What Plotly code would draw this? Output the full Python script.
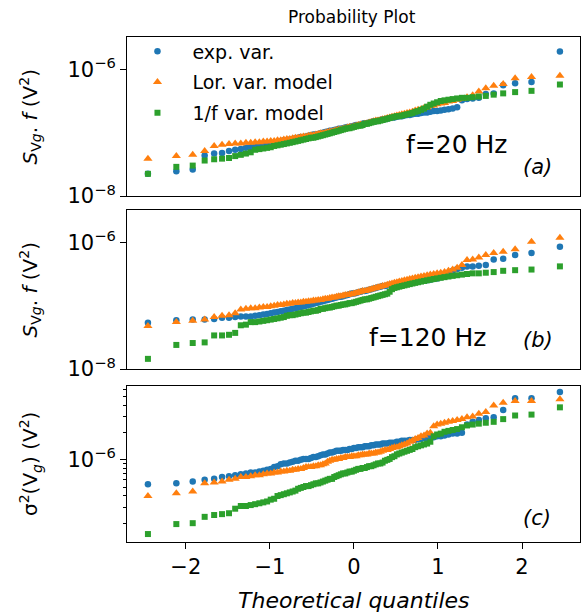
import plotly.graph_objects as go

# Theoretical quantiles (x axis of the probability plot), 97 ordered samples
quantiles = [-2.451, -2.113, -1.918, -1.776, -1.663, -1.569, -1.486, -1.413, -1.346, -1.285,
             -1.228, -1.175, -1.125, -1.078, -1.033, -0.990, -0.949, -0.909, -0.871, -0.834,
             -0.798, -0.763, -0.729, -0.696, -0.664, -0.632, -0.601, -0.570, -0.540, -0.511,
             -0.482, -0.453, -0.425, -0.397, -0.369, -0.341, -0.314, -0.287, -0.260, -0.234,
             -0.207, -0.181, -0.155, -0.129, -0.103, -0.078, -0.052, -0.026, 0.000,
             0.026, 0.052, 0.078, 0.103, 0.129, 0.155, 0.181, 0.207, 0.234, 0.260,
             0.287, 0.314, 0.341, 0.369, 0.397, 0.425, 0.453, 0.482, 0.511, 0.540,
             0.570, 0.601, 0.632, 0.664, 0.696, 0.729, 0.763, 0.798, 0.834, 0.871,
             0.909, 0.949, 0.990, 1.033, 1.078, 1.125, 1.175, 1.228, 1.285, 1.346,
             1.413, 1.486, 1.569, 1.663, 1.776, 1.918, 2.113, 2.451]

# Ordered values, stored as log10 of the quantity (V^2)
# Panel (a): f = 20 Hz
exp_20_log10 = [-7.65, -7.61, -7.58, -7.36, -7.33, -7.32, -7.29, -7.27, -7.26, -7.24,
                -7.23, -7.22, -7.20, -7.19, -7.18, -7.17, -7.16, -7.15, -7.14, -7.12,
                -7.12, -7.11, -7.10, -7.09, -7.08, -7.07, -7.07, -7.06, -7.05, -7.04,
                -7.03, -7.03, -7.02, -7.01, -7.00, -6.99, -6.98, -6.97, -6.97, -6.96,
                -6.95, -6.94, -6.94, -6.93, -6.92, -6.91, -6.91, -6.90, -6.89, -6.88,
                -6.88, -6.87, -6.86, -6.85, -6.85, -6.84, -6.83, -6.82, -6.82, -6.81,
                -6.80, -6.79, -6.79, -6.78, -6.77, -6.76, -6.76, -6.75, -6.74, -6.74,
                -6.73, -6.72, -6.72, -6.71, -6.70, -6.70, -6.69, -6.68, -6.68, -6.67,
                -6.66, -6.66, -6.65, -6.64, -6.63, -6.62, -6.60, -6.49, -6.47, -6.46,
                -6.45, -6.39, -6.38, -6.25, -6.22, -6.20, -5.72]
lor_20_log10 = [-7.41, -7.37, -7.35, -7.29, -7.21, -7.19, -7.18, -7.17, -7.17, -7.16,
                -7.16, -7.15, -7.15, -7.14, -7.14, -7.13, -7.13, -7.12, -7.12, -7.11,
                -7.10, -7.10, -7.09, -7.08, -7.08, -7.07, -7.06, -7.06, -7.05, -7.04,
                -7.04, -7.03, -7.02, -7.01, -7.01, -7.00, -6.99, -6.98, -6.98, -6.97,
                -6.96, -6.95, -6.95, -6.94, -6.93, -6.92, -6.91, -6.91, -6.90, -6.89,
                -6.88, -6.87, -6.87, -6.86, -6.85, -6.84, -6.83, -6.82, -6.81, -6.81,
                -6.80, -6.79, -6.78, -6.77, -6.76, -6.75, -6.74, -6.73, -6.72, -6.71,
                -6.70, -6.69, -6.68, -6.67, -6.65, -6.64, -6.63, -6.61, -6.60, -6.58,
                -6.57, -6.55, -6.54, -6.53, -6.51, -6.50, -6.48, -6.47, -6.44, -6.41,
                -6.35, -6.30, -6.26, -6.23, -6.14, -6.12, -6.10]
inv_f_20_log10 = [-7.65, -7.54, -7.52, -7.44, -7.42, -7.41, -7.40, -7.37, -7.35, -7.33,
                  -7.31, -7.27, -7.26, -7.25, -7.24, -7.23, -7.21, -7.20, -7.19, -7.18,
                  -7.17, -7.16, -7.15, -7.14, -7.13, -7.12, -7.11, -7.10, -7.09, -7.08,
                  -7.08, -7.07, -7.06, -7.05, -7.04, -7.03, -7.02, -7.01, -7.00, -6.99,
                  -6.98, -6.97, -6.96, -6.95, -6.94, -6.93, -6.93, -6.92, -6.91, -6.90,
                  -6.89, -6.89, -6.88, -6.86, -6.86, -6.85, -6.84, -6.83, -6.82, -6.82,
                  -6.81, -6.80, -6.79, -6.78, -6.77, -6.76, -6.75, -6.74, -6.74, -6.73,
                  -6.72, -6.71, -6.70, -6.69, -6.67, -6.66, -6.64, -6.62, -6.59, -6.56,
                  -6.54, -6.52, -6.50, -6.49, -6.48, -6.47, -6.46, -6.45, -6.45, -6.44,
                  -6.43, -6.42, -6.40, -6.38, -6.36, -6.34, -6.24]

# Panel (b): f = 120 Hz
exp_120_log10 = [-7.27, -7.23, -7.22, -7.22, -7.21, -7.19, -7.19, -7.18, -7.17, -7.17,
                 -7.17, -7.16, -7.15, -7.14, -7.13, -7.12, -7.11, -7.10, -7.09, -7.08,
                 -7.07, -7.06, -7.05, -7.04, -7.03, -7.02, -7.01, -7.00, -6.99, -6.98,
                 -6.97, -6.96, -6.95, -6.94, -6.93, -6.92, -6.91, -6.90, -6.89, -6.88,
                 -6.87, -6.86, -6.86, -6.85, -6.84, -6.83, -6.82, -6.81, -6.81, -6.80,
                 -6.79, -6.78, -6.77, -6.77, -6.76, -6.75, -6.74, -6.73, -6.72, -6.71,
                 -6.70, -6.69, -6.69, -6.68, -6.67, -6.67, -6.66, -6.66, -6.65, -6.65,
                 -6.64, -6.64, -6.63, -6.62, -6.62, -6.61, -6.61, -6.60, -6.60, -6.59,
                 -6.58, -6.57, -6.55, -6.52, -6.48, -6.45, -6.42, -6.40, -6.38, -6.38,
                 -6.37, -6.36, -6.27, -6.26, -6.20, -6.17, -6.07]
lor_120_log10 = [-7.32, -7.26, -7.24, -7.22, -7.18, -7.16, -7.15, -7.12, -7.06, -7.05,
                 -7.04, -7.04, -7.03, -7.02, -7.02, -7.01, -7.00, -6.99, -6.99, -6.98,
                 -6.97, -6.97, -6.96, -6.96, -6.95, -6.95, -6.94, -6.94, -6.93, -6.93,
                 -6.92, -6.92, -6.91, -6.91, -6.90, -6.89, -6.89, -6.88, -6.87, -6.87,
                 -6.86, -6.85, -6.85, -6.84, -6.83, -6.83, -6.82, -6.82, -6.81, -6.80,
                 -6.79, -6.78, -6.77, -6.77, -6.76, -6.75, -6.74, -6.73, -6.72, -6.71,
                 -6.70, -6.69, -6.68, -6.67, -6.66, -6.65, -6.64, -6.63, -6.62, -6.61,
                 -6.60, -6.59, -6.58, -6.57, -6.56, -6.55, -6.54, -6.53, -6.52, -6.51,
                 -6.50, -6.49, -6.48, -6.47, -6.45, -6.43, -6.40, -6.36, -6.28, -6.27,
                 -6.24, -6.20, -6.17, -6.15, -6.11, -5.99, -5.93]
inv_f_120_log10 = [-7.84, -7.62, -7.59, -7.58, -7.47, -7.47, -7.46, -7.43, -7.31, -7.30,
                   -7.26, -7.26, -7.25, -7.24, -7.23, -7.22, -7.21, -7.20, -7.19, -7.18,
                   -7.16, -7.15, -7.15, -7.14, -7.13, -7.12, -7.11, -7.11, -7.10, -7.09,
                   -7.08, -7.08, -7.07, -7.05, -7.05, -7.04, -7.03, -7.03, -7.02, -7.01,
                   -7.00, -7.00, -6.99, -6.98, -6.98, -6.97, -6.96, -6.96, -6.95, -6.94,
                   -6.93, -6.92, -6.91, -6.90, -6.90, -6.89, -6.88, -6.87, -6.86, -6.85,
                   -6.84, -6.83, -6.82, -6.81, -6.78, -6.74, -6.72, -6.71, -6.70, -6.69,
                   -6.68, -6.67, -6.66, -6.65, -6.64, -6.63, -6.62, -6.61, -6.60, -6.59,
                   -6.58, -6.57, -6.56, -6.55, -6.54, -6.53, -6.52, -6.51, -6.50, -6.49,
                   -6.49, -6.48, -6.47, -6.45, -6.44, -6.43, -6.38]

# Panel (c): variance sigma^2(Vg)
exp_var_log10 = [-6.27, -6.26, -6.24, -6.22, -6.21, -6.19, -6.18, -6.17, -6.16, -6.15,
                 -6.14, -6.14, -6.13, -6.12, -6.11, -6.10, -6.08, -6.07, -6.05, -6.04,
                 -6.04, -6.03, -6.02, -6.01, -6.01, -6.00, -5.99, -5.99, -5.99, -5.98,
                 -5.97, -5.97, -5.96, -5.95, -5.94, -5.94, -5.93, -5.92, -5.92, -5.91,
                 -5.90, -5.90, -5.90, -5.89, -5.89, -5.89, -5.88, -5.88, -5.87, -5.87,
                 -5.86, -5.86, -5.86, -5.85, -5.85, -5.85, -5.84, -5.84, -5.83, -5.83,
                 -5.83, -5.82, -5.82, -5.82, -5.81, -5.81, -5.81, -5.80, -5.80, -5.79,
                 -5.79, -5.79, -5.78, -5.78, -5.78, -5.77, -5.77, -5.76, -5.76, -5.76,
                 -5.75, -5.74, -5.74, -5.73, -5.72, -5.71, -5.71, -5.70, -5.61, -5.58,
                 -5.56, -5.54, -5.53, -5.45, -5.32, -5.32, -5.25]
lor_var_log10 = [-6.40, -6.37, -6.35, -6.26, -6.25, -6.24, -6.22, -6.21, -6.19, -6.19,
                 -6.18, -6.17, -6.17, -6.16, -6.15, -6.15, -6.14, -6.14, -6.13, -6.13,
                 -6.12, -6.12, -6.11, -6.11, -6.10, -6.10, -6.09, -6.08, -6.08, -6.08,
                 -6.07, -6.07, -6.06, -6.06, -6.05, -6.04, -6.02, -6.01, -6.00, -6.00,
                 -5.99, -5.99, -5.98, -5.98, -5.97, -5.97, -5.97, -5.96, -5.96, -5.96,
                 -5.95, -5.95, -5.94, -5.94, -5.94, -5.93, -5.93, -5.93, -5.92, -5.92,
                 -5.91, -5.90, -5.89, -5.89, -5.88, -5.87, -5.86, -5.86, -5.85, -5.84,
                 -5.83, -5.82, -5.80, -5.79, -5.77, -5.76, -5.74, -5.73, -5.71, -5.70,
                 -5.63, -5.61, -5.60, -5.59, -5.58, -5.57, -5.56, -5.55, -5.53, -5.52,
                 -5.49, -5.47, -5.40, -5.37, -5.35, -5.35, -5.33]
inv_f_var_log10 = [-6.82, -6.71, -6.70, -6.63, -6.61, -6.60, -6.59, -6.54, -6.51, -6.51,
                   -6.50, -6.49, -6.48, -6.47, -6.46, -6.44, -6.43, -6.40, -6.39, -6.38,
                   -6.37, -6.36, -6.35, -6.34, -6.32, -6.31, -6.30, -6.29, -6.29, -6.28,
                   -6.27, -6.26, -6.26, -6.25, -6.24, -6.23, -6.22, -6.21, -6.21, -6.19,
                   -6.18, -6.17, -6.16, -6.15, -6.15, -6.14, -6.13, -6.13, -6.12, -6.11,
                   -6.10, -6.10, -6.09, -6.09, -6.08, -6.07, -6.07, -6.06, -6.05, -6.04,
                   -6.04, -6.03, -6.01, -6.00, -5.99, -5.97, -5.96, -5.94, -5.93, -5.92,
                   -5.91, -5.90, -5.89, -5.88, -5.86, -5.85, -5.84, -5.83, -5.82, -5.80,
                   -5.74, -5.72, -5.71, -5.69, -5.68, -5.67, -5.66, -5.64, -5.62, -5.61,
                   -5.60, -5.59, -5.58, -5.55, -5.51, -5.50, -5.42]

series_names = ["exp. var.", "Lor. var. model", "1/f var. model"]
panel_notes = ["f=20 Hz", "f=120 Hz", ""]
panel_letters = ["(a)", "(b)", "(c)"]

colors = ["#1f77b4", "#ff7f0e", "#2ca02c"]
symbols = ["circle", "triangle-up", "square"]
sizes = [6.5, 8, 6]

panels = [
    [exp_20_log10, lor_20_log10, inv_f_20_log10],
    [exp_120_log10, lor_120_log10, inv_f_120_log10],
    [exp_var_log10, lor_var_log10, inv_f_var_log10],
]
for p in panels:
    for s in p:
        assert len(s) == len(quantiles), len(s)

FONT = "DejaVu Sans"
fig = go.Figure()

for k, panel in enumerate(panels):
    xa = "x" if k == 0 else f"x{k+1}"
    ya = "y" if k == 0 else f"y{k+1}"
    for j, vals in enumerate(panel):
        fig.add_trace(go.Scatter(
            x=quantiles, y=[10 ** v for v in vals], mode="markers",
            xaxis=xa, yaxis=ya, name=series_names[j], showlegend=(k == 0),
            legendgroup=series_names[j],
            marker=dict(color=colors[j], symbol=symbols[j], size=sizes[j], line=dict(width=0)),
        ))

W, H = 584, 616
ml, mr, mt, mb = 127, 4, 37, 74
ph = H - mt - mb
pw = W - ml - mr

def dom(top_px, bot_px):
    return [(H - mb - bot_px) / ph, (H - mb - top_px) / ph]

doms = [dom(37, 196), dom(210, 369), dom(386, 542)]

axis_common = dict(showline=True, mirror=True, linecolor="black", linewidth=1,
                   showgrid=False, zeroline=False)

xrange_ = [-2.70, 2.69]
lay = dict(
    width=W, height=H, margin=dict(l=ml, r=mr, t=mt, b=mb, pad=0),
    paper_bgcolor="white", plot_bgcolor="white",
    font=dict(family=FONT, color="black", size=20),
    showlegend=True,
    legend=dict(x=-0.01, y=1.009, xanchor="left", yanchor="top", bgcolor="rgba(0,0,0,0)",
                font=dict(size=19, family=FONT), itemwidth=60, tracegroupgap=3,
                traceorder="grouped"),
)
x_ticks = [-2, -1, 0, 1, 2]
x_ticktext = ["\u22122", "\u22121", "0", "1", "2"]
for k in range(3):
    xname = "xaxis" if k == 0 else f"xaxis{k+1}"
    yname = "yaxis" if k == 0 else f"yaxis{k+1}"
    ya = "y" if k == 0 else f"y{k+1}"
    xa = "x" if k == 0 else f"x{k+1}"
    xa_cfg = dict(axis_common, domain=[0, 1], range=xrange_, anchor=ya)
    if k < 2:
        xa_cfg.update(showticklabels=False, ticks="", matches="x3")
    else:
        xa_cfg.update(ticks="outside", ticklen=6, tickwidth=1, tickcolor="black",
                      tickvals=x_ticks, ticktext=x_ticktext,
                      tickfont=dict(size=21, family=FONT))
    lay[xname] = xa_cfg
    ya_cfg = dict(axis_common, domain=doms[k], type="log", anchor=xa,
                  ticks="outside", ticklen=6, tickwidth=1, tickcolor="black",
                  tickfont=dict(size=21, family=FONT))
    if k < 2:
        ya_cfg.update(range=[-8.0, -5.49], tickvals=[1e-8, 1e-6],
                      ticktext=["10<sup>\u22128</sup>", "10<sup>\u22126</sup>"])
    else:
        minor_vals = [m * 1e-7 for m in (2, 3, 4, 5, 6, 7, 8, 9)] + [m * 1e-6 for m in (2, 3, 4, 5, 6)]
        ya_cfg.update(range=[-6.908, -5.184], tickvals=[1e-6],
                      ticktext=["10<sup>\u22126</sup>"],
                      minor=dict(tickvals=minor_vals, ticks="outside", ticklen=3,
                                 tickwidth=1, tickcolor="black", showgrid=False))
    lay[yname] = ya_cfg

fig.update_layout(**lay)

ann = []
# title
ann.append(dict(text="Probability Plot", xref="paper", yref="paper", x=0.497,
                y=1 + 20 / ph, xanchor="center", yanchor="middle", showarrow=False,
                font=dict(size=17, family=FONT)))
# x label
ann.append(dict(text="<i>Theoretical quantiles</i>", xref="paper", yref="paper", x=0.501,
                y=-(600 - 542) / ph, xanchor="center", yanchor="middle", showarrow=False,
                font=dict(size=22, family=FONT)))
# y labels
ylabels = ["<i>S</i><sub>V<i>g</i></sub>. <i>f</i> (V<sup>2</sup>)",
           "<i>S</i><sub>V<i>g</i></sub>. <i>f</i> (V<sup>2</sup>)",
           "σ<sup>2</sup>(V<sub><i>g</i></sub>) (V<sup>2</sup>)"]
for k in range(3):
    ann.append(dict(text=ylabels[k], xref="paper", yref="paper", x=(30 - ml) / pw,
                    y=sum(doms[k]) / 2, xanchor="center", yanchor="middle", textangle=-90,
                    showarrow=False, font=dict(size=20, family=FONT)))
# panel notes
note_pos = [(0.728, 0.321), (0.664, 0.195)]
for k in range(2):
    xa = "x" if k == 0 else f"x{k+1}"
    ya = "y" if k == 0 else f"y{k+1}"
    ann.append(dict(text=panel_notes[k], xref=f"{xa} domain", yref=f"{ya} domain",
                    x=note_pos[k][0], y=note_pos[k][1], xanchor="center", yanchor="middle",
                    showarrow=False, font=dict(size=25, family=FONT)))
letter_pos = [(0.907, 0.184), (0.907, 0.182), (0.905, 0.154)]
for k in range(3):
    xa = "x" if k == 0 else f"x{k+1}"
    ya = "y" if k == 0 else f"y{k+1}"
    ann.append(dict(text=f"<i>{panel_letters[k]}</i>", xref=f"{xa} domain", yref=f"{ya} domain",
                    x=letter_pos[k][0], y=letter_pos[k][1], xanchor="center", yanchor="middle",
                    showarrow=False, font=dict(size=21, family=FONT)))
fig.update_layout(annotations=ann)

fig.write_html("out.html", config={"displayModeBar": False},
               post_script="document.body.style.margin='0';document.body.style.overflow='hidden';")
